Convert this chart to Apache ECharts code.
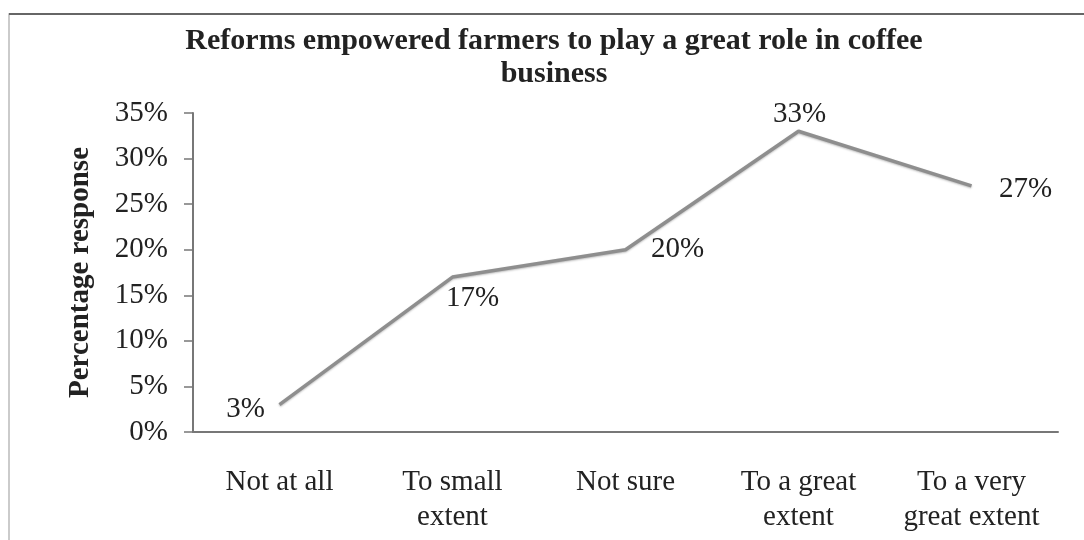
<!DOCTYPE html>
<html><head><meta charset="utf-8">
<script src="https://cdn.jsdelivr.net/npm/echarts@6/dist/echarts.min.js"></script>
<style>html,body{margin:0;padding:0;background:#fff}#c{width:1084px;height:540px}</style>
</head><body><div id="c"></div>
<script>
const categories = ['Not at all', 'To small\nextent', 'Not sure', 'To a great\nextent', 'To a very\ngreat extent'];
const values = [3, 17, 20, 33, 27];
const yTicks = [0, 5, 10, 15, 20, 25, 30, 35];
const labelOffsets = [[-34, 5], [20, 21], [52, 0], [1, -17], [54, 3]];

const chart = echarts.init(document.getElementById('c'));
const serif = '"Liberation Serif", "DejaVu Serif", serif';
chart.setOption({
  animation: false,
  backgroundColor: '#fff',
  title: {
    text: 'Reforms empowered farmers to play a great role in coffee\nbusiness',
    left: 549, top: 20, textAlign: 'center',
    textStyle: { fontFamily: serif, fontSize: 30, fontWeight: 'bold', color: '#222', lineHeight: 33 }
  },
  graphic: [
    { type: 'rect', shape: { x: 9, y: 14, width: 1090, height: 540 }, style: { fill: 'none', stroke: '#bbb', lineWidth: 1.5 } },
    { type: 'line', shape: { x1: 9, y1: 14, x2: 1084, y2: 14 }, style: { stroke: '#666', lineWidth: 2 } }
  ],
  grid: { left: 193, right: 26, top: 113, bottom: 108 },
  xAxis: {
    type: 'category', data: categories, boundaryGap: true,
    axisLine: { lineStyle: { color: '#777', width: 2 } },
    axisTick: { show: false },
    axisLabel: { interval: 0, hideOverlap: false, fontFamily: serif, fontSize: 29, color: '#222', margin: 33, lineHeight: 35 }
  },
  yAxis: {
    type: 'value', min: yTicks[0], max: yTicks[yTicks.length - 1], interval: 5,
    name: 'Percentage response', nameLocation: 'middle', nameGap: 98,
    nameTextStyle: { fontFamily: serif, fontSize: 29, fontWeight: 'bold', color: '#222' },
    axisLine: { show: true, lineStyle: { color: '#777', width: 2 } },
    axisTick: { show: true, length: 9, lineStyle: { color: '#777', width: 1.5 } },
    splitLine: { show: false },
    axisLabel: { fontFamily: serif, fontSize: 29, color: '#222', margin: 25, formatter: v => v + '%' }
  },
  series: [{
    type: 'line', data: values.map((v, i) => ({
      value: v,
      label: { offset: labelOffsets[i] }
    })),
    symbol: 'circle', symbolSize: 1, showSymbol: true,
    itemStyle: { color: 'rgba(0,0,0,0)' },
    lineStyle: { color: '#8e8e8e', width: 3.5, shadowColor: 'rgba(0,0,0,0.25)', shadowBlur: 2, shadowOffsetY: 1 },
    label: { show: true, position: 'inside', fontFamily: serif, fontSize: 29, color: '#222', formatter: p => p.value + '%' }
  }]
});
</script></body></html>
